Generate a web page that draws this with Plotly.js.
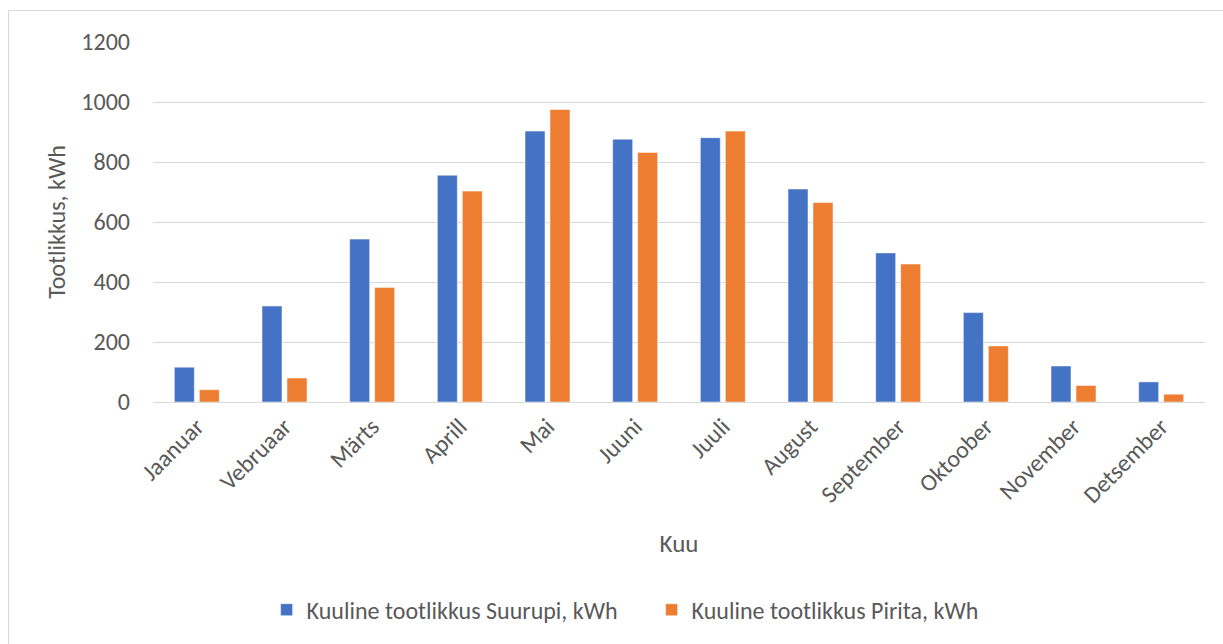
<!DOCTYPE html>
<html>
<head>
<meta charset="utf-8">
<script src="https://cdn.plot.ly/plotly-3.0.1.min.js"></script>
<style>
  html, body { margin: 0; padding: 0; background: #fff; }
  #frame { position: absolute; left: 8px; top: 10px; width: 1230px; height: 650px; border: 1px solid #d9d9d9; box-sizing: border-box; }
  #chart { position: absolute; left: 0; top: 0; width: 1223px; height: 644px; }
</style>
</head>
<body>
<div id="frame"></div>
<div id="chart"></div>
<script>
const months = ["Jaanuar", "Vebruaar", "Märts", "Aprill", "Mai", "Juuni", "Juuli", "August", "September", "Oktoober", "November", "Detsember"];
const suurupi = [116, 320, 543, 756, 903, 876, 881, 710, 497, 298, 120, 67];
const pirita = [41, 80, 382, 703, 975, 832, 903, 665, 460, 187, 55, 26];
const seriesNames = ["Kuuline tootlikkus Suurupi, kWh", "Kuuline tootlikkus Pirita, kWh"];
const yTicks = [0, 200, 400, 600, 800, 1000, 1200];

const fontFam = "Carlito, Calibri, 'Liberation Sans Narrow', 'Open Sans', sans-serif";

const traces = [
  { type: "bar", name: seriesNames[0], x: months, y: suurupi,
    marker: { color: "#4472C4", line: { color: "rgba(255,255,255,0.5)", width: 1 } }, hoverinfo: "x+y" },
  { type: "bar", name: seriesNames[1], x: months, y: pirita,
    marker: { color: "#ED7D31", line: { color: "rgba(255,255,255,0.5)", width: 1 } }, hoverinfo: "x+y" }
];

const layout = {
  width: 1223, height: 644,
  paper_bgcolor: "rgba(0,0,0,0)", plot_bgcolor: "#fff",
  margin: { l: 153, r: 18, t: 42, b: 238 },
  font: { family: fontFam, color: "#595959", size: 24 },
  barmode: "group", bargap: 0.43, bargroupgap: 0.2,
  showlegend: true,
  legend: { orientation: "h", x: 0.108, xanchor: "left", y: -0.578, yanchor: "middle",
            font: { size: 24, color: "#595959" }, traceorder: "normal", itemwidth: 30,
            entrywidth: 340, entrywidthmode: "pixels" },
  xaxis: {
    type: "category", tickangle: -45, ticks: "", showgrid: false,
    showline: true, linecolor: "#d9d9d9", linewidth: 1,
    tickfont: { size: 24, color: "#595959" },
    title: { text: "Kuu", font: { size: 25, color: "#595959" }, standoff: 26 }
  },
  yaxis: {
    range: [0, 1200], tickvals: yTicks, ticktext: yTicks.map(String),
    showgrid: true, gridcolor: "#d9d9d9", gridwidth: 1, zeroline: false,
    showline: false, ticks: "", ticklabelstandoff: 22,
    tickfont: { size: 24, color: "#595959" },
    title: { text: "Tootlikkus, kWh", font: { size: 24, color: "#595959" }, standoff: 8 }
  }
};

Plotly.newPlot("chart", traces, layout, { displayModeBar: false, staticPlot: false });
</script>
</body>
</html>
